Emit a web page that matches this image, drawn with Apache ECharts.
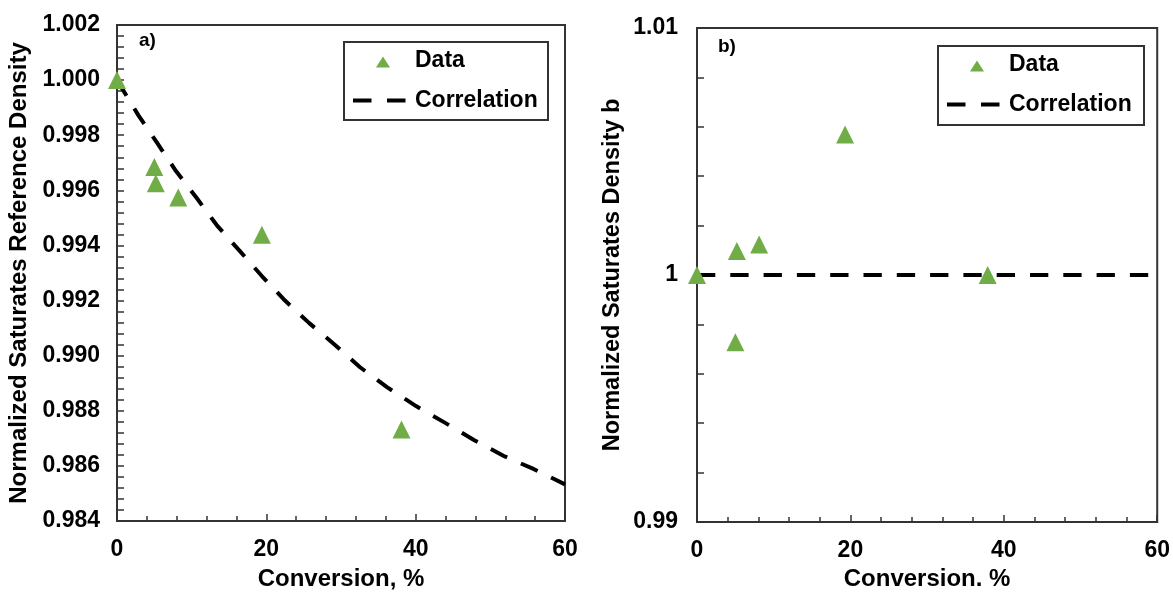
<!DOCTYPE html>
<html>
<head>
<meta charset="utf-8">
<script src="https://cdn.jsdelivr.net/npm/echarts@6/dist/echarts.min.js"></script>
<style>
html,body{margin:0;padding:0;background:#fff;}
#c{width:1173px;height:596px;}
</style>
</head>
<body>
<div id="c"></div>
<script>
// Panel a) data
const aDataX = [0, 5.0, 5.2, 8.2, 19.4, 38.1];
const aDataY = [1.000, 0.99685, 0.99626, 0.99574, 0.99439, 0.98732];
const aCorrX = [0, 2.85, 5.4, 7.9, 10.7, 13.35, 16.4, 19.4, 22.5, 25.75, 29.2, 32.55, 36.2, 40.05, 43.9, 47.8, 51.8, 55.85, 60];
const aCorrY = [1.000, 0.99873, 0.99771, 0.99670, 0.99571, 0.99474, 0.99381, 0.99289, 0.99200, 0.99118, 0.99039, 0.98958, 0.98885, 0.98817, 0.98757, 0.98694, 0.98636, 0.98588, 0.98533];
// Panel b) data
const bDataX = [0, 5.0, 5.2, 8.1, 19.3, 37.9];
const bDataY = [1.000, 0.99728, 1.00097, 1.00123, 1.00569, 1.000];
const bCorrX = [0, 60];
const bCorrY = [1, 1];

const xTicks = {min: 0, max: 60, interval: 20};
const aYTicks = {min: 0.984, max: 1.002, interval: 0.002};
const bYTicks = {min: 0.99, max: 1.01, interval: 0.01};
const legendNames = ['Data', 'Correlation'];

const zip = (xs, ys) => xs.map((x, i) => [x, ys[i]]);

const FONT = "'Liberation Sans', Arial, sans-serif";
const AX = '#333';
const GREEN = '#70ad47';
const DASH = [18.3, 15];
const tickStyle = {fontFamily: FONT, fontWeight: 'bold', fontSize: 23, color: '#000'};
const nameStyle = {fontFamily: FONT, fontWeight: 'bold', fontSize: 24, color: '#000'};
const nameStyleB = {fontFamily: FONT, fontWeight: 'bold', fontSize: 23.5, color: '#000'};

function xAxis(gridIndex, name, nameGap) {
  return {
    type: 'value', gridIndex, min: xTicks.min, max: xTicks.max, interval: xTicks.interval,
    name, nameLocation: 'middle', nameGap, nameTextStyle: nameStyle,
    axisLine: {show: true, onZero: false, lineStyle: {color: AX, width: 2}},
    axisTick: {show: true, inside: true, length: 7, lineStyle: {color: AX, width: 1.5}},
    minorTick: {show: true, splitNumber: 5, length: 5, lineStyle: {color: AX, width: 1.5}},
    axisLabel: Object.assign({margin: 17}, tickStyle),
    splitLine: {show: false}
  };
}
function yAxis(gridIndex, name, t, fmt, nameGap, margin, ns) {
  return {
    type: 'value', gridIndex, min: t.min, max: t.max, interval: t.interval,
    name, nameLocation: 'middle', nameGap, nameTextStyle: ns,
    axisLine: {show: true, onZero: false, lineStyle: {color: AX, width: 2}},
    axisTick: {show: true, inside: true, length: 7, lineStyle: {color: AX, width: 1.5}},
    minorTick: {show: true, splitNumber: 5, length: 7, lineStyle: {color: AX, width: 1.5}},
    axisLabel: Object.assign({margin, formatter: fmt}, tickStyle),
    splitLine: {show: false}
  };
}

// Boxed legend drawn as graphic decoration (box at x0,y0)
function legendBox(x0, y0, w, h) {
  const font = "bold 23px 'Liberation Sans', Arial, sans-serif";
  const tx = x0 + 71, tcx = x0 + 39;
  return {
    type: 'group', silent: true, z: 100,
    children: [
      {type: 'rect', shape: {x: x0, y: y0, width: w, height: h},
       style: {fill: '#fff', stroke: AX, lineWidth: 2}},
      {type: 'polygon', shape: {points: [[tcx - 7, y0 + 25.5], [tcx, y0 + 14.5], [tcx + 7, y0 + 25.5]]},
       style: {fill: GREEN}},
      {type: 'text', style: {text: legendNames[0], x: tx, y: y0 + 18.5, font, fill: '#000', verticalAlign: 'middle'}},
      {type: 'line', shape: {x1: x0 + 9, y1: y0 + 58.5, x2: x0 + 62, y2: y0 + 58.5},
       style: {stroke: '#000', lineWidth: 4, lineDash: [18.5, 15.5]}},
      {type: 'text', style: {text: legendNames[1], x: tx, y: y0 + 58.5, font, fill: '#000', verticalAlign: 'middle'}}
    ]
  };
}

const chart = echarts.init(document.getElementById('c'), null, {renderer: 'canvas'});
chart.setOption({
  animation: false,
  backgroundColor: '#fff',
  title: [
    {text: 'a)', left: 139, top: 31, textStyle: {fontFamily: FONT, fontWeight: 'bold', fontSize: 19, color: '#000'}, padding: 0},
    {text: 'b)', left: 718, top: 37, textStyle: {fontFamily: FONT, fontWeight: 'bold', fontSize: 19, color: '#000'}, padding: 0}
  ],
  grid: [
    {left: 117, top: 25, width: 448, height: 496, show: true, borderColor: AX, borderWidth: 2, backgroundColor: 'transparent'},
    {left: 697, top: 28, width: 464, height: 497, show: true, borderColor: AX, borderWidth: 2, backgroundColor: 'transparent'}
  ],
  xAxis: [xAxis(0, 'Conversion, %', 46), xAxis(1, 'Conversion. %', 45)],
  yAxis: [
    yAxis(0, 'Normalized Saturates Reference Density', aYTicks, v => v.toFixed(3), 86, 17, nameStyle),
    yAxis(1, 'Normalized Saturates Density b', bYTicks, v => String(+v.toFixed(4)), 72, 19, nameStyleB)
  ],
  graphic: [legendBox(344, 42, 204, 78), legendBox(938, 46, 206, 79)],
  series: [
    {name: 'Correlation', type: 'line', xAxisIndex: 0, yAxisIndex: 0, data: zip(aCorrX, aCorrY),
     smooth: false, showSymbol: false, symbol: 'none',
     lineStyle: {color: '#000', width: 4, type: DASH, cap: 'butt', join: 'round'}, z: 2},
    {name: 'Data', type: 'scatter', xAxisIndex: 0, yAxisIndex: 0, data: zip(aDataX, aDataY),
     symbol: 'triangle', symbolSize: 18, itemStyle: {color: GREEN, opacity: 1}, z: 5},
    {name: 'Correlation b', type: 'line', xAxisIndex: 1, yAxisIndex: 1, data: zip(bCorrX, bCorrY),
     showSymbol: false, symbol: 'none',
     lineStyle: {color: '#000', width: 4, type: DASH, cap: 'butt'}, z: 2},
    {name: 'Data b', type: 'scatter', xAxisIndex: 1, yAxisIndex: 1, data: zip(bDataX, bDataY),
     symbol: 'triangle', symbolSize: 18, itemStyle: {color: GREEN, opacity: 1}, z: 5}
  ]
});
</script>
</body>
</html>
